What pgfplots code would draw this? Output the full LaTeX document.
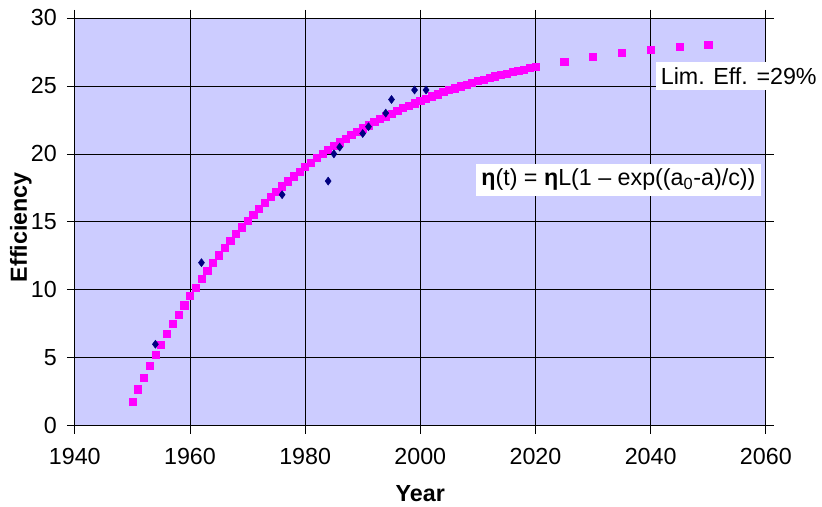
\documentclass[border=0pt]{standalone}
\usepackage{pgfplots}
\pgfplotsset{compat=1.18}
\usepackage{fontspec}
\setmainfont{Liberation Sans}
\definecolor{bgc}{RGB}{204,204,255}
\definecolor{fitc}{RGB}{255,0,255}
\definecolor{datc}{RGB}{0,0,128}
\begin{document}
\begin{tikzpicture}[x=1pt,y=1pt]
\begin{axis}[
  at={(0,0)}, anchor=south west,
  scale only axis,
  width=519.75pt, height=306.75pt,
  xmin=1940, xmax=2060, ymin=0, ymax=30,
  xtick={1940,1960,...,2060},
  ytick={0,5,...,30},
  grid=major,
  major grid style={black, line width=0.6pt},
  axis line style={black, line width=0.6pt},
  tick style={black, line width=0.6pt},
  tick align=outside,
  major tick length=6pt,
  axis background/.style={fill=bgc},
  /pgf/number format/1000 sep={},
  /pgf/number format/assume math mode=true,
  ticklabel style={font=\fontsize{17.5}{19}\selectfont},
  xticklabel style={yshift=-7pt},
  yticklabel style={xshift=-4pt},
  xlabel={\textbf{Year}},
  ylabel={\textbf{Efficiency}},
  label style={font=\fontsize{17.5}{19}\selectfont},
  xlabel style={at={(axis description cs:0.5,-0.166)}, anchor=center},
  ylabel style={at={(axis description cs:-0.078,0.487)}, anchor=center},
  clip=false,
]
\addplot[only marks, mark=square*, mark size=2.7pt, color=fitc] coordinates {
(1950,1.79)(1951,2.69)(1952,3.55)(1953,4.39)(1954,5.20)(1955,5.99)(1956,6.75)(1957,7.48)(1958,8.19)(1959,8.87)
(1960,9.54)(1961,10.18)(1962,10.80)(1963,11.40)(1964,11.98)(1965,12.54)(1966,13.08)(1967,13.61)(1968,14.11)(1969,14.61)
(1970,15.08)(1971,15.54)(1972,15.98)(1973,16.41)(1974,16.83)(1975,17.23)(1976,17.62)(1977,17.99)(1978,18.35)(1979,18.70)
(1980,19.04)(1981,19.37)(1982,19.69)(1983,20.00)(1984,20.29)(1985,20.58)(1986,20.86)(1987,21.13)(1988,21.38)(1989,21.64)
(1990,21.88)(1991,22.11)(1992,22.34)(1993,22.56)(1994,22.77)(1995,22.98)(1996,23.18)(1997,23.37)(1998,23.55)(1999,23.73)
(2000,23.91)(2001,24.07)(2002,24.24)(2003,24.39)(2004,24.55)(2005,24.69)(2006,24.83)(2007,24.97)(2008,25.10)(2009,25.23)
(2010,25.36)(2011,25.48)(2012,25.59)(2013,25.71)(2014,25.81)(2015,25.92)(2016,26.02)(2017,26.12)(2018,26.21)(2019,26.31)
(2020,26.39)(2025,26.80)(2030,27.14)(2035,27.42)(2040,27.67)(2045,27.87)(2050,28.05)
};
\addplot[only marks, mark=diamond*, mark size=3pt, color=datc] coordinates {
(1954,6.0)(1962,12.0)(1976,17.0)(1984,18.0)(1985,20.0)(1986,20.5)(1990,21.5)(1991,22.0)(1994,23.0)(1995,24.0)(1999,24.7)(2001,24.7)
};
\node[fill=white, inner sep=4pt, font=\fontsize{17.5}{19}\selectfont] at (axis cs:2055.3,25.75) {Lim. Eff. =29\%};
\node[fill=white, inner sep=4pt, font=\fontsize{17.5}{19}\selectfont] at (axis cs:2034.4,18.1) {\textbf{η}(t) = \textbf{η}L(1 – exp((a\textsubscript{0}-a)/c))};
\end{axis}
\path[use as bounding box] (-56.25pt,-60.75pt) rectangle (560.25pt,320.25pt);
\end{tikzpicture}
\end{document}
